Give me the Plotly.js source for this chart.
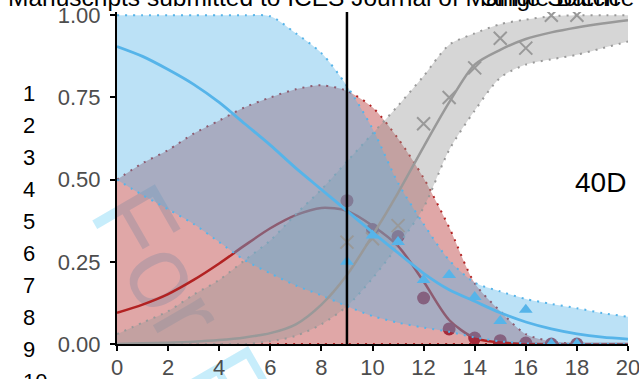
<!DOCTYPE html>
<html><head><meta charset="utf-8">
<script src="https://cdn.plot.ly/plotly-3.0.1.min.js"></script>
<style>
html,body{margin:0;padding:0;background:#fff;overflow:hidden}
#wrap{position:relative;width:639px;height:379px;overflow:hidden}
#wm{position:absolute;left:88px;top:124px;font-family:'Liberation Sans',Arial,sans-serif;font-size:105px;line-height:105px;white-space:nowrap;color:rgba(0,174,239,0.22);transform-origin:0 89px;transform:rotate(60deg);z-index:0}
#chart{position:absolute;left:0;top:0;width:639px;height:379px;z-index:1}
</style>
</head><body><div id="wrap"><div id="wm"></div><div id="chart"></div></div><script>
// ---- data ----
const fitX   = [0,1,2,3,4,5,6,7,8,9,10,11,12,13,14,15,16,17,18,19,20];
const blueFit = [0.905,0.875,0.835,0.79,0.735,0.67,0.605,0.535,0.47,0.405,0.34,0.277,0.215,0.165,0.13,0.095,0.067,0.046,0.031,0.021,0.015];
const redFit  = [0.095,0.12,0.152,0.195,0.245,0.3,0.352,0.392,0.414,0.405,0.36,0.298,0.19,0.073,0.018,0.005,0.001,0,0,0,0];
const grayFit = [0,0.002,0.004,0.007,0.012,0.02,0.033,0.06,0.12,0.21,0.33,0.46,0.6,0.735,0.85,0.895,0.928,0.948,0.963,0.975,0.985];
const redHi  = [0.5,0.55,0.59,0.64,0.68,0.72,0.75,0.775,0.787,0.77,0.72,0.625,0.505,0.355,0.185,0.1,0.03,0.008,0,0,0];
const redLo  = [0,0,0,0,0,0,0,0,0,0,0,0,0,0,0,0,0,0,0,0,0];
const blueHi = [1,1,1,1,1,1,0.997,0.945,0.885,0.785,0.655,0.49,0.365,0.255,0.187,0.16,0.137,0.122,0.109,0.094,0.083];
const blueLo = [0.5,0.453,0.41,0.365,0.31,0.255,0.215,0.178,0.148,0.115,0.085,0.065,0.05,0.037,0.02,0.008,0.002,0,0,0,0];
const grayHi = [0.03,0.065,0.1,0.15,0.195,0.255,0.315,0.395,0.47,0.555,0.64,0.725,0.815,0.91,0.945,0.973,0.987,0.997,1,1,1];
const grayLo = [0,0,0,0,0,0,0.008,0.025,0.06,0.115,0.2,0.3,0.415,0.59,0.71,0.81,0.85,0.866,0.88,0.9,0.92];

const obsX    = [9,10,11,12,13,14,15,16,17,18];
const bluePts = [0.25,0.33,0.31,0.195,0.21,0.143,0.07,0.104,0,0];
const redPts  = [0.436,0.348,0.327,0.14,0.046,0.018,0.01,0.003,0,0];
const grayPts = [0.31,0.32,0.36,0.67,0.75,0.84,0.93,0.90,1.0,1.0];

const xTicks = [0,2,4,6,8,10,12,14,16,18,20];
const yTicks = [0,0.25,0.5,0.75,1];
const yTickText = ['0.00','0.25','0.50','0.75','1.00'];
const cutX = 9;
const panelLabel = '40D';
const lineNumbers = ['1','2','3','4','5','6','7','8','9','10'];
const headerText = 'Manuscripts submitted to ICES Journal of Marine Science';
const titleText = 'Single Batch';
const watermarkText = 'For Review Only';

document.getElementById('wm').textContent = watermarkText;

// ---- styling ----
const RED='#B22222', BLUE='#56B4E9', GRAY='#999999';
const FONT='Liberation Sans, Arial, sans-serif';
const L=117, Rm=11, T=12, Bm=35, W=639-L-Rm, H=379-T-Bm;
const pX = px => (px-L)/W;
const pY = py => (379-Bm-py)/H;
const dotted = c => ({color:c, width:2, dash:'2px,6px', shape:'spline', smoothing:0.8});

const traces = [
  {x:fitX, y:redLo, mode:'lines', line:dotted(RED)},
  {x:fitX, y:redHi, mode:'lines', line:dotted(RED), fill:'tonexty', fillcolor:'rgba(178,34,34,0.4)'},
  {x:fitX, y:redFit, mode:'lines', line:{color:RED, width:2.5, shape:'spline', smoothing:0.8}},
  {x:obsX, y:redPts, mode:'markers', marker:{symbol:'circle', size:13, color:'#A52A3A'}},
  {x:fitX, y:grayLo, mode:'lines', line:dotted(GRAY)},
  {x:fitX, y:grayHi, mode:'lines', line:dotted(GRAY), fill:'tonexty', fillcolor:'rgba(153,153,153,0.4)'},
  {x:fitX, y:blueLo, mode:'lines', line:dotted(BLUE)},
  {x:fitX, y:blueHi, mode:'lines', line:dotted(BLUE), fill:'tonexty', fillcolor:'rgba(86,180,233,0.4)'},
  {x:fitX, y:grayFit, mode:'lines', line:{color:GRAY, width:2.5, shape:'spline', smoothing:0.8}},
  {x:obsX, y:grayPts, mode:'markers', marker:{symbol:'x-thin-open', size:13, color:GRAY, line:{color:GRAY, width:2}}},
  {x:fitX, y:blueFit, mode:'lines', line:{color:BLUE, width:2.8, shape:'spline', smoothing:0.8}},
  {x:obsX, y:bluePts, mode:'markers', marker:{symbol:'triangle-up', size:12, color:BLUE}}
];

const lineNumY = [93.5,125.5,157.5,189.5,221.5,253.5,285.5,317.5,349.5,381.5];
const annotations = lineNumbers.map((t,i)=>({
  text:t, xref:'paper', yref:'paper', x:pX(21), y:pY(lineNumY[i]),
  xanchor:'left', yanchor:'middle', showarrow:false,
  font:{family:FONT, size:22, color:'#000'}
}));
annotations.push({text:headerText, xref:'paper', yref:'paper', x:pX(6), y:pY(13),
  xanchor:'left', yanchor:'bottom', showarrow:false, font:{family:FONT, size:24.5, color:'#000'}});
annotations.push({text:titleText, xref:'paper', yref:'paper', x:pX(479), y:pY(13),
  xanchor:'left', yanchor:'bottom', showarrow:false, font:{family:FONT, size:24.5, color:'#000'}});
annotations.push({text:panelLabel, xref:'paper', yref:'y', x:1, y:0.49,
  xanchor:'right', yanchor:'middle', showarrow:false, font:{family:FONT, size:28, color:'#000'}});

const axisBase = {showline:true, linecolor:'#000', linewidth:2, ticks:'outside', ticklen:5,
  tickwidth:2, tickcolor:'#000', showgrid:false, zeroline:false, ticklabeloverflow:'allow',
  tickfont:{family:FONT, size:22, color:'#4d4d4d'}, fixedrange:true};

const layout = {
  width:639, height:379, margin:{l:L, r:Rm, t:T, b:Bm, pad:0},
  paper_bgcolor:'rgba(0,0,0,0)', plot_bgcolor:'rgba(0,0,0,0)', showlegend:false,
  xaxis:Object.assign({}, axisBase, {range:[0,20], tickvals:xTicks, ticktext:xTicks.map(String), ticklabelstandoff:-2}),
  yaxis:Object.assign({}, axisBase, {range:[0,1.01], tickvals:yTicks, ticktext:yTickText, ticklabelstandoff:5}),
  shapes:[{type:'line', xref:'x', yref:'paper', x0:cutX, x1:cutX, y0:0, y1:1,
    line:{color:'#000', width:2.5}, layer:'above'}],
  annotations:annotations
};
Plotly.newPlot('chart', traces, layout, {staticPlot:true, displayModeBar:false});
</script></body></html>
